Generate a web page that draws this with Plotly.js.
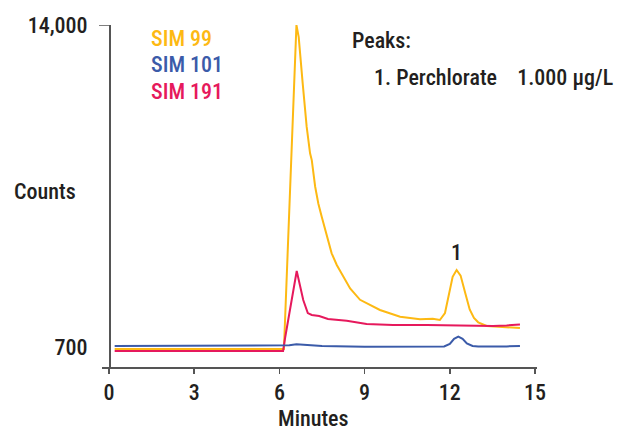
<!DOCTYPE html>
<html>
<head>
<meta charset="utf-8">
<script src="https://cdn.plot.ly/plotly-3.0.1.min.js"></script>
<style>html,body{margin:0;padding:0;background:#fff;}</style>
</head>
<body>
<div id="chart" style="width:620px;height:430px;"></div>
<script>
// ---- data ----
const seriesNames = ["SIM 99", "SIM 101", "SIM 191"];
const time99 = [0.2, 1.5, 3, 4.5, 6.16, 6.6, 6.68, 6.82, 6.96, 7.08, 7.14, 7.26, 7.37, 7.49, 7.67, 7.84, 8.02, 8.25, 8.49, 8.84, 9.19, 9.54, 10.25, 10.95, 11.4, 11.65, 11.83, 12.0, 12.1, 12.24, 12.38, 12.55, 12.7, 12.85, 13.0, 13.3, 13.77, 14.1, 14.47];
const sim99 = [617, 620, 615, 618, 617, 14000, 13500, 11590, 9800, 8700, 8420, 7320, 6630, 6080, 5260, 4570, 4090, 3600, 3120, 2650, 2450, 2230, 1950, 1845, 1870, 1815, 2104, 3100, 3600, 3880, 3650, 2900, 2250, 1900, 1720, 1567, 1526, 1490, 1485];
const time101 = [0.2, 1.5, 3, 4.5, 6.1, 6.35, 6.6, 7.0, 7.5, 9, 10.5, 11.8, 12.0, 12.15, 12.3, 12.45, 12.6, 12.8, 13.0, 13.5, 14.0, 14.47];
const sim101 = [741, 745, 735, 742, 741, 770, 811, 785, 741, 712, 720, 722, 830, 1040, 1125, 1040, 850, 740, 718, 715, 725, 741];
const time191 = [0.2, 1.5, 3, 4.5, 6.13, 6.2, 6.61, 6.84, 7.0, 7.14, 7.4, 7.71, 8.37, 9.07, 10.0, 11.19, 12.36, 13.52, 14.0, 14.47];
const sim191 = [535, 530, 538, 532, 535, 1072, 3840, 2640, 2100, 2022, 1980, 1860, 1786, 1650, 1609, 1609, 1580, 1567, 1590, 1630];
const xTicks = [0, 3, 6, 9, 12, 15];
const yTickVals = [700, 14000];
const yTickText = ["700", "14,000"];
const peakLabel = "1";
const peakTime = 12.24;
const peakCount = 4624;

const colors = ["#FDB913", "#3B5BA9", "#E6195C"];
const FONT = "'Liberation Sans Narrow', 'Roboto Condensed', 'Liberation Sans', Arial, sans-serif";
const TXT = "#231F20";
const WT = 500;

const traces = [
  {x: time99, y: sim99, name: seriesNames[0], mode: "lines", line: {color: colors[0], width: 2}},
  {x: time191, y: sim191, name: seriesNames[2], mode: "lines", line: {color: colors[2], width: 2}},
  {x: time101, y: sim101, name: seriesNames[1], mode: "lines", line: {color: colors[1], width: 2}}
];

const L = 102, R = 537, T = 25, B = 367;
const W = R - L, H = B - T;
const px = v => (v - L) / W;
const py = v => (B - v) / H;

const f = (c) => ({size: 22, color: c || TXT, weight: WT});

const layout = {
  width: 620, height: 430,
  margin: {l: L, r: 620 - R, t: T, b: 430 - B, pad: 0},
  paper_bgcolor: "#fff", plot_bgcolor: "#fff",
  showlegend: false,
  font: {family: FONT, color: TXT, size: 22, weight: WT},
  xaxis: {
    range: [-0.246, 15.07], tickvals: xTicks, ticks: "outside", ticklen: 5, tickwidth: 1.5,
    tickcolor: "#555", showline: true, linecolor: "#555", linewidth: 1.5,
    showgrid: false, zeroline: false, tickfont: f()
  },
  yaxis: {
    anchor: "free", position: px(109), range: [-126, 14000],
    tickvals: yTickVals, ticktext: yTickText, ticks: "", ticklabelstandoff: 17,
    showline: true, linecolor: "#555", linewidth: 1.5, showgrid: false, zeroline: false,
    tickfont: f()
  },
  shapes: [
    {type: "line", xref: "paper", yref: "y", x0: px(99), x1: px(109), y0: 14000, y1: 14000, line: {color: "#555", width: 1.5}}
  ],
  annotations: [
    {text: seriesNames[0], xref: "paper", yref: "paper", x: px(149), y: py(38.5), xanchor: "left", yanchor: "middle", showarrow: false, font: f(colors[0])},
    {text: seriesNames[1], xref: "paper", yref: "paper", x: px(149), y: py(64), xanchor: "left", yanchor: "middle", showarrow: false, font: f(colors[1])},
    {text: seriesNames[2], xref: "paper", yref: "paper", x: px(149), y: py(91.5), xanchor: "left", yanchor: "middle", showarrow: false, font: f(colors[2])},
    {text: "Peaks:", xref: "paper", yref: "paper", x: px(350), y: py(40), xanchor: "left", yanchor: "middle", showarrow: false, font: f()},
    {text: "1. Perchlorate\u00a0\u00a0\u00a0\u00a01.000 µg/L", xref: "paper", yref: "paper", x: px(372), y: py(78), xanchor: "left", yanchor: "middle", showarrow: false, font: f()},
    {text: "Counts", xref: "paper", yref: "paper", x: px(12), y: py(191), xanchor: "left", yanchor: "middle", showarrow: false, font: f()},
    {text: "Minutes", xref: "paper", yref: "paper", x: px(313), y: py(418), xanchor: "center", yanchor: "middle", showarrow: false, font: f()},
    {text: peakLabel, xref: "x", yref: "y", x: peakTime, y: peakCount, xanchor: "center", yanchor: "middle", showarrow: false, font: f()}
  ]
};

Plotly.newPlot("chart", traces, layout, {displayModeBar: false, staticPlot: true});
</script>
</body>
</html>
